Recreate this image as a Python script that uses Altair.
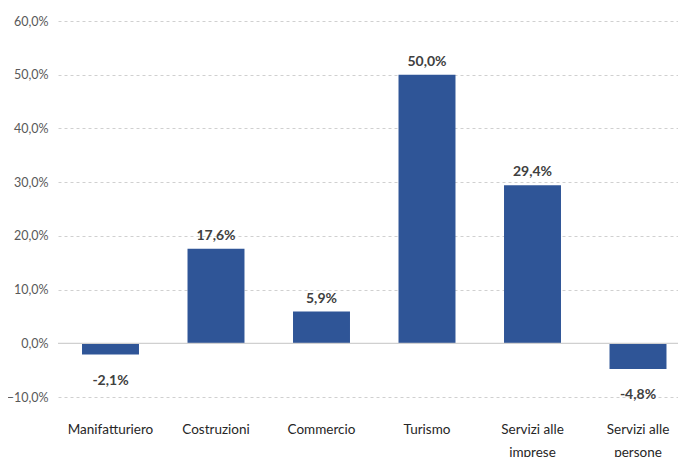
import altair as alt
import pandas as pd

categories = ["Manifatturiero", "Costruzioni", "Commercio", "Turismo",
              "Servizi alle|imprese", "Servizi alle|persone"]
values = [-2.1, 17.6, 5.9, 50.0, 29.4, -4.8]

df = pd.DataFrame({"cat": categories, "val": values})
df["lab"] = df["val"].map(lambda v: f"{v:.1f}".replace(".", ",") + "%")

FONT = "Lato, Liberation Sans, sans-serif"

x = alt.X("cat:N", sort=categories, title=None,
          scale=alt.Scale(paddingInner=0.46, paddingOuter=0.2276, range=[0, 632.5]),
          axis=alt.Axis(labelAngle=0, domain=False, ticks=False, labelPadding=25,
                        labelExpr="split(datum.label, '|')", labelLineHeight=23,
                        labelFont=FONT, labelFontSize=13.5, labelColor="#262626"))
y = alt.Y("val:Q", title=None,
          scale=alt.Scale(domain=[-10, 60], nice=False, zero=False),
          axis=alt.Axis(values=[-10, 0, 10, 20, 30, 40, 50, 60], domain=False, ticks=False,
                        labelPadding=10, labelFont=FONT, labelFontSize=12.5, labelColor="#595959",
                        labelExpr="replace(format(datum.value, '.1f'), '.', ',') + '%'",
                        gridDash=[3, 3], gridColor="#d0d0d0", gridWidth=1))

base = alt.Chart(df)
bars = base.mark_bar(color="#2F5597").encode(x=x, y=y)
zero = alt.Chart(pd.DataFrame({"z": [0]})).mark_rule(color="#d0d0d0", strokeWidth=1.2).encode(
    y=alt.Y("z:Q", scale=alt.Scale(domain=[-10, 60], nice=False, zero=False)))
pos = base.transform_filter("datum.val >= 0").mark_text(
    baseline="bottom", dy=-6, font=FONT, fontSize=14, fontWeight="bold", color="#404040"
).encode(x=x, y=y, text="lab:N")
neg = base.transform_filter("datum.val < 0").mark_text(
    baseline="top", dy=19, font=FONT, fontSize=14, fontWeight="bold", color="#404040"
).encode(x=x, y=y, text="lab:N")

chart = alt.layer(bars, zero, pos, neg).properties(
    width=620, height=376,
    autosize=alt.AutoSizeParams(type="none"),
    padding={"left": 50, "top": 13, "right": 0, "bottom": 60},
).configure_view(stroke=None)

chart.save("out.html", embed_options={"renderer": "svg", "actions": False})
